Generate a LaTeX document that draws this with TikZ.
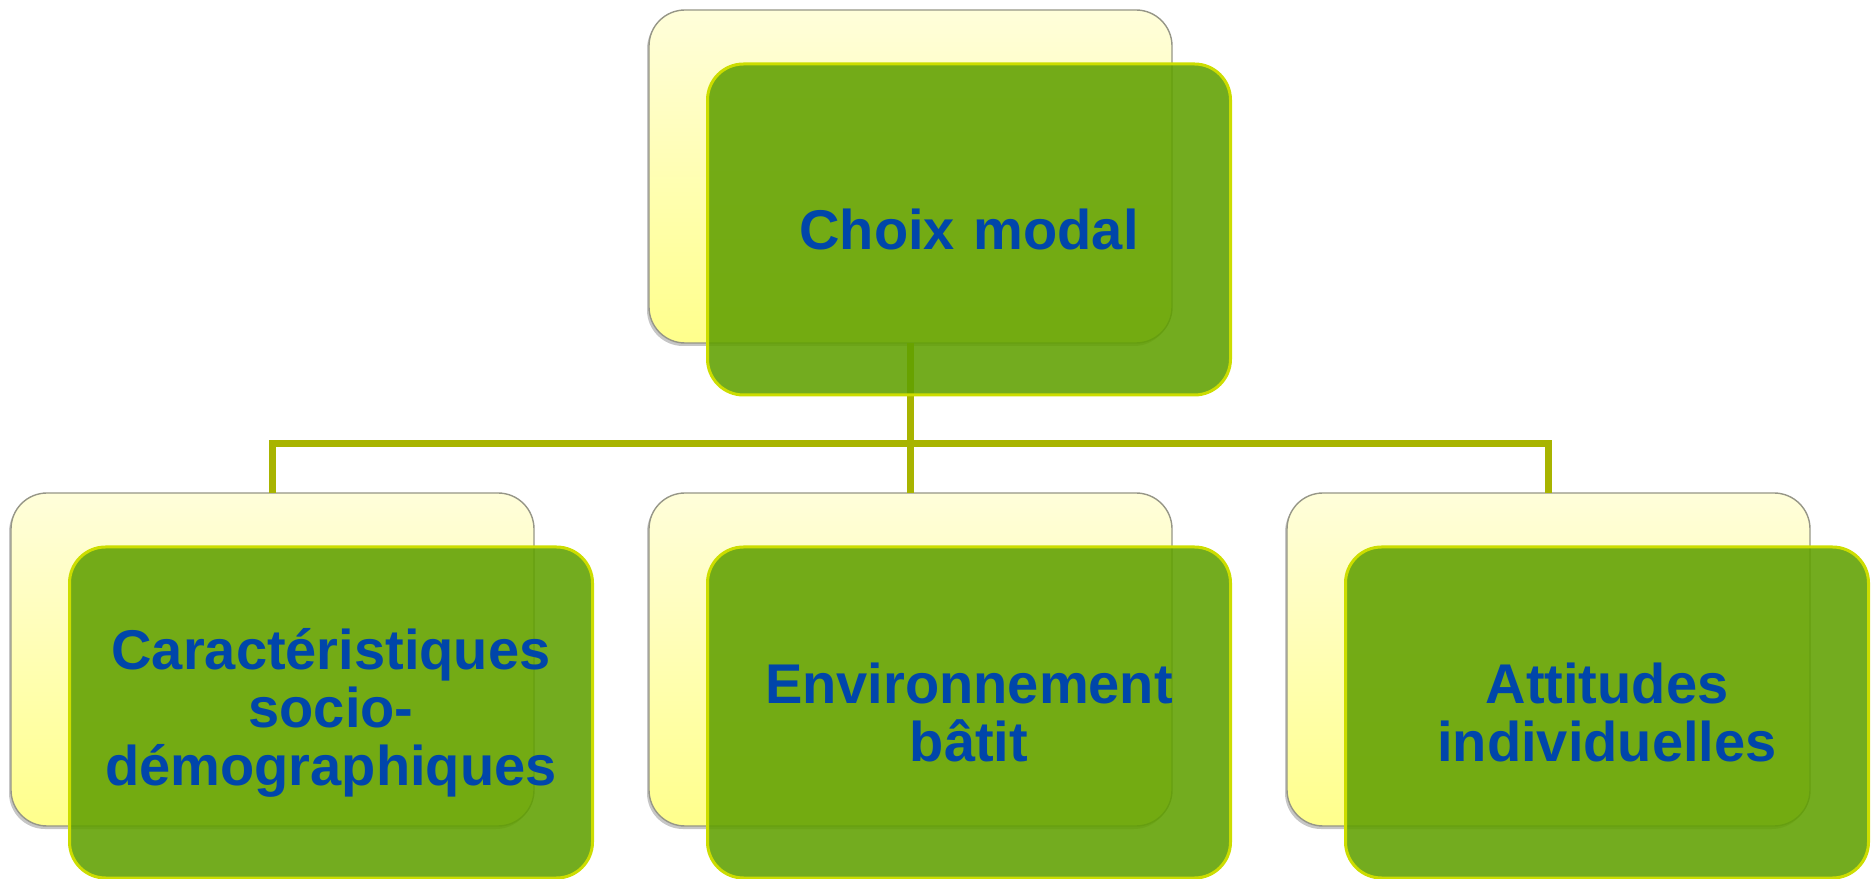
\documentclass[tikz,border=0pt]{standalone}
\usepackage{fontspec}
\setmainfont{Liberation Sans}
\usepackage{tikz}
\usetikzlibrary{positioning, calc, shadows}
\definecolor{mytext}{RGB}{0,70,170}
\definecolor{mygreen}{RGB}{96,160,0}
\definecolor{myrim}{RGB}{204,221,0}
\definecolor{myolive}{RGB}{168,180,0}
\definecolor{paletop}{RGB}{255,254,218}
\definecolor{palebot}{RGB}{255,255,140}
\definecolor{mygrey}{RGB}{150,150,135}
\tikzset{
  backbox/.style={rectangle, draw=mygrey, line width=1.4pt,
    top color=paletop, bottom color=palebot,
    minimum width=523pt, minimum height=333pt, rounded corners=36pt,
    outer sep=0pt, drop shadow={shadow xshift=-2pt, shadow yshift=-3pt, opacity=0.45}},
  frontbox/.style={rectangle, draw=myrim, line width=3pt, fill=mygreen,
    fill opacity=0.88, text opacity=1, text=mytext,
    minimum width=523pt, minimum height=331pt, text width=500pt, align=center,
    rounded corners=36pt, outer sep=0pt, inner sep=0pt,
    font=\bfseries\fontsize{56}{58}\selectfont},
  link/.style={line width=7pt, color=myolive}
}

\begin{document}
\begin{tikzpicture}[x=1pt, y=1pt]
  \useasboundingbox (0,0) rectangle (1873,878);
  % back cards
  \node[backbox] (choixB) at (910.5,701.5) {};
  \node[backbox, below=150pt of choixB] (envB) {};
  \node[backbox, left=115pt of envB] (caractB) {};
  \node[backbox, right=115pt of envB] (attitB) {};

  % tree links
  \coordinate (bus) at ($(choixB.south)+(0,-101)$);
  \draw[link] (choixB.south) -- (bus);
  \draw[link] (caractB.north) |- (bus) -| (attitB.north);
  \draw[link] (bus) -- (envB.north);

  % front cards
  \node[frontbox] (choix) at ($(choixB)+(58.5,-53)$) {Choix modal};
  \node[frontbox] (caract) at ($(caractB)+(58.5,-53)$) {Caractéristiques\\socio-\\démographiques};
  \node[frontbox] (env) at ($(envB)+(58.5,-53)$) {Environnement\\bâtit};
  \node[frontbox] (attit) at ($(attitB)+(58.5,-53)$) {Attitudes\\individuelles};
\end{tikzpicture}
\end{document}
